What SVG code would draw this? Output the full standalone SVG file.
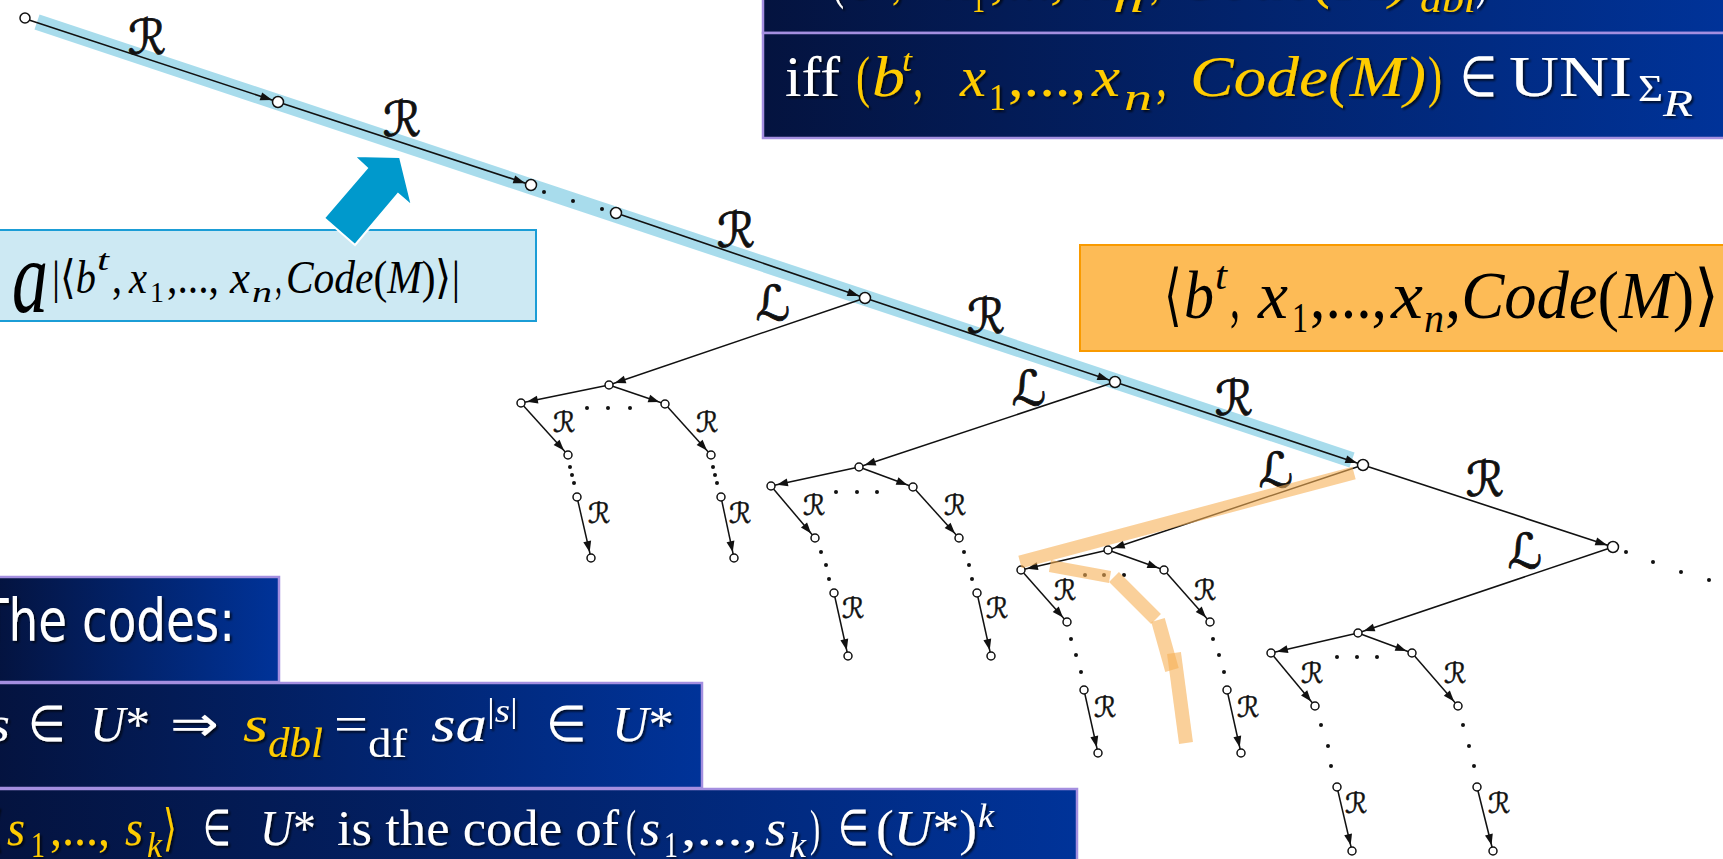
<svg xmlns="http://www.w3.org/2000/svg" width="1723" height="859" viewBox="0 0 1723 859">
<defs>
<linearGradient id="gd" x1="0" y1="0" x2="1" y2="0">
<stop offset="0" stop-color="#04133f"/><stop offset="1" stop-color="#003399"/>
</linearGradient>
<filter id="sh" x="-5%" y="-10%" width="110%" height="140%">
<feDropShadow dx="2" dy="2" stdDeviation="1" flood-color="#000" flood-opacity="0.7"/>
</filter>
<marker id="ah" markerUnits="userSpaceOnUse" markerWidth="11" markerHeight="8" viewBox="0 0 11 8" refX="17" refY="4" orient="auto" overflow="visible">
<path d="M0,0 L11,4 L0,8 z" fill="#111"/>
</marker>
<marker id="ahs" markerUnits="userSpaceOnUse" markerWidth="12" markerHeight="8" viewBox="0 0 12 8" refX="18" refY="4" orient="auto" overflow="visible">
<path d="M0,0 L12,4 L0,8 z" fill="#111"/>
</marker>
</defs>
<style>
.box{fill:url(#gd);stroke:#a48fe0;stroke-width:2.5}
.e{stroke:#111;stroke-width:1.5;fill:none;marker-end:url(#ah)}
.es{stroke:#111;stroke-width:1.6;fill:none;marker-end:url(#ahs)}
.nd{fill:#fff;stroke:#111;stroke-width:1.5}
.dot{fill:#111}
.lb{font-family:"DejaVu Sans","Noto Sans",sans-serif;fill:#111;stroke:#111;text-anchor:middle;dominant-baseline:central}
.big{font-size:48px;stroke-width:0.9}
.sm{font-size:28px;stroke-width:0.5}
.t{font-family:"Liberation Serif","Times New Roman",serif}
.i{font-style:italic}
.w{fill:#fff}
.y{fill:#ffcc00}
.k{fill:#000}
.sub{font-size:38px}
</style>
<rect width="1723" height="859" fill="#fff"/>

<g id="blue-band">
<line x1="37" y1="22" x2="1352" y2="460" stroke="#a8dcec" stroke-width="16"/>
</g>

<g id="connectors">
<line class="es" x1="26" y1="19" x2="278" y2="102"/>
<line class="es" x1="278" y1="102" x2="531" y2="185"/>
<line class="es" x1="616" y1="213" x2="865" y2="298"/>
<line class="es" x1="865" y1="298" x2="1115" y2="382"/>
<line class="es" x1="1115" y1="382" x2="1363" y2="465"/>
<line class="es" x1="1363" y1="465" x2="1613" y2="547"/>
<line class="e" x1="865" y1="298" x2="609" y2="385"/>
<line class="e" x1="1115" y1="382" x2="859" y2="467"/>
<line class="e" x1="1363" y1="465" x2="1108" y2="550"/>
<line class="e" x1="1613" y1="547" x2="1358" y2="633"/>
<line class="e" x1="609" y1="385" x2="521" y2="403"/>
<line class="e" x1="609" y1="385" x2="665" y2="404"/>
<line class="e" x1="521" y1="403" x2="568" y2="455"/>
<line class="e" x1="665" y1="404" x2="711" y2="455"/>
<line class="e" x1="577" y1="497" x2="591" y2="558"/>
<line class="e" x1="721" y1="497" x2="734" y2="558"/>
<line class="e" x1="859" y1="467" x2="771" y2="486"/>
<line class="e" x1="859" y1="467" x2="913" y2="487"/>
<line class="e" x1="771" y1="486" x2="815" y2="538"/>
<line class="e" x1="913" y1="487" x2="959" y2="538"/>
<line class="e" x1="834" y1="593" x2="848" y2="656"/>
<line class="e" x1="977" y1="593" x2="991" y2="656"/>
<line class="e" x1="1108" y1="550" x2="1021" y2="570"/>
<line class="e" x1="1108" y1="550" x2="1164" y2="570"/>
<line class="e" x1="1021" y1="570" x2="1067" y2="622"/>
<line class="e" x1="1164" y1="570" x2="1210" y2="622"/>
<line class="e" x1="1084" y1="690" x2="1098" y2="753"/>
<line class="e" x1="1227" y1="690" x2="1241" y2="753"/>
<line class="e" x1="1358" y1="633" x2="1271" y2="653"/>
<line class="e" x1="1358" y1="633" x2="1412" y2="653"/>
<line class="e" x1="1271" y1="653" x2="1315" y2="706"/>
<line class="e" x1="1412" y1="653" x2="1458" y2="706"/>
<line class="e" x1="1337" y1="787" x2="1352" y2="851"/>
<line class="e" x1="1477" y1="787" x2="1493" y2="851"/>
<g class="dot">
<circle cx="544" cy="192" r="2"/><circle cx="573" cy="201" r="2"/><circle cx="602" cy="209" r="2"/>
<circle cx="1626" cy="552" r="2"/><circle cx="1653" cy="562" r="2"/><circle cx="1681" cy="572" r="2"/><circle cx="1709" cy="580" r="2"/>
<circle cx="587" cy="408" r="2"/><circle cx="608" cy="408" r="2"/><circle cx="630" cy="408" r="2"/>
<circle cx="570" cy="467" r="2"/><circle cx="572" cy="475" r="2"/><circle cx="574" cy="483" r="2"/>
<circle cx="713" cy="467" r="2"/><circle cx="715" cy="475" r="2"/><circle cx="717" cy="483" r="2"/>
<circle cx="836" cy="492" r="2"/><circle cx="857" cy="492" r="2"/><circle cx="877" cy="492" r="2"/>
<circle cx="821" cy="552" r="2"/><circle cx="826" cy="565" r="2"/><circle cx="829" cy="579" r="2"/>
<circle cx="964" cy="552" r="2"/><circle cx="969" cy="565" r="2"/><circle cx="972" cy="579" r="2"/>
<circle cx="1085" cy="575" r="2"/><circle cx="1104" cy="575" r="2"/><circle cx="1124" cy="575" r="2"/>
<circle cx="1071" cy="639" r="2"/><circle cx="1076" cy="655" r="2"/><circle cx="1081" cy="672" r="2"/>
<circle cx="1213" cy="639" r="2"/><circle cx="1219" cy="655" r="2"/><circle cx="1224" cy="672" r="2"/>
<circle cx="1337" cy="657" r="2"/><circle cx="1357" cy="657" r="2"/><circle cx="1377" cy="657" r="2"/>
<circle cx="1321" cy="725" r="2"/><circle cx="1328" cy="746" r="2"/><circle cx="1331" cy="766" r="2"/>
<circle cx="1463" cy="725" r="2"/><circle cx="1469" cy="746" r="2"/><circle cx="1474" cy="766" r="2"/>
</g>
<g class="lb big">
<text x="147" y="37">ℛ</text><text x="402" y="119">ℛ</text><text x="736" y="230">ℛ</text>
<text x="986" y="316">ℛ</text><text x="1234" y="398">ℛ</text><text x="1485" y="479">ℛ</text>
<text x="773" y="303">ℒ</text><text x="1029" y="388">ℒ</text><text x="1276" y="470">ℒ</text><text x="1525" y="551">ℒ</text>
</g>
<g class="lb sm">
<text x="564" y="422">ℛ</text><text x="707" y="422">ℛ</text><text x="599" y="513">ℛ</text><text x="740" y="513">ℛ</text>
<text x="814" y="505">ℛ</text><text x="955" y="505">ℛ</text><text x="853" y="608">ℛ</text><text x="997" y="608">ℛ</text>
<text x="1065" y="590">ℛ</text><text x="1205" y="590">ℛ</text><text x="1105" y="707">ℛ</text><text x="1248" y="707">ℛ</text>
<text x="1312" y="673">ℛ</text><text x="1455" y="673">ℛ</text><text x="1356" y="803">ℛ</text><text x="1499" y="803">ℛ</text>
</g>
</g>

<g id="nodes">
<g id="n0"><circle class="nd" cx="25" cy="18" r="5"/></g>
<g id="n1"><circle class="nd" cx="278" cy="102" r="5.5"/></g>
<g id="n2"><circle class="nd" cx="531" cy="185" r="5.5"/></g>
<g id="n3"><circle class="nd" cx="616" cy="213" r="5.5"/></g>
<g id="n4"><circle class="nd" cx="865" cy="298" r="5.5"/></g>
<g id="n5"><circle class="nd" cx="1115" cy="382" r="5.5"/></g>
<g id="n6"><circle class="nd" cx="1363" cy="465" r="5.5"/></g>
<g id="n7"><circle class="nd" cx="1613" cy="547" r="5.5"/></g>
<g id="a"><circle class="nd" cx="609" cy="385" r="4"/></g>
<g id="aL"><circle class="nd" cx="521" cy="403" r="4"/></g>
<g id="aR"><circle class="nd" cx="665" cy="404" r="4"/></g>
<g id="aL1"><circle class="nd" cx="568" cy="455" r="4"/></g>
<g id="aR1"><circle class="nd" cx="711" cy="455" r="4"/></g>
<g id="aL2"><circle class="nd" cx="577" cy="497" r="4"/></g>
<g id="aR2"><circle class="nd" cx="721" cy="497" r="4"/></g>
<g id="aL3"><circle class="nd" cx="591" cy="558" r="4"/></g>
<g id="aR3"><circle class="nd" cx="734" cy="558" r="4"/></g>
<g id="b"><circle class="nd" cx="859" cy="467" r="4"/></g>
<g id="bL"><circle class="nd" cx="771" cy="486" r="4"/></g>
<g id="bR"><circle class="nd" cx="913" cy="487" r="4"/></g>
<g id="bL1"><circle class="nd" cx="815" cy="538" r="4"/></g>
<g id="bR1"><circle class="nd" cx="959" cy="538" r="4"/></g>
<g id="bL2"><circle class="nd" cx="834" cy="593" r="4"/></g>
<g id="bR2"><circle class="nd" cx="977" cy="593" r="4"/></g>
<g id="bL3"><circle class="nd" cx="848" cy="656" r="4"/></g>
<g id="bR3"><circle class="nd" cx="991" cy="656" r="4"/></g>
<g id="c"><circle class="nd" cx="1108" cy="550" r="4"/></g>
<g id="cL"><circle class="nd" cx="1021" cy="570" r="4"/></g>
<g id="cR"><circle class="nd" cx="1164" cy="570" r="4"/></g>
<g id="cL1"><circle class="nd" cx="1067" cy="622" r="4"/></g>
<g id="cR1"><circle class="nd" cx="1210" cy="622" r="4"/></g>
<g id="cL2"><circle class="nd" cx="1084" cy="690" r="4"/></g>
<g id="cR2"><circle class="nd" cx="1227" cy="690" r="4"/></g>
<g id="cL3"><circle class="nd" cx="1098" cy="753" r="4"/></g>
<g id="cR3"><circle class="nd" cx="1241" cy="753" r="4"/></g>
<g id="d"><circle class="nd" cx="1358" cy="633" r="4"/></g>
<g id="dL"><circle class="nd" cx="1271" cy="653" r="4"/></g>
<g id="dR"><circle class="nd" cx="1412" cy="653" r="4"/></g>
<g id="dL1"><circle class="nd" cx="1315" cy="706" r="4"/></g>
<g id="dR1"><circle class="nd" cx="1458" cy="706" r="4"/></g>
<g id="dL2"><circle class="nd" cx="1337" cy="787" r="4"/></g>
<g id="dR2"><circle class="nd" cx="1477" cy="787" r="4"/></g>
<g id="dL3"><circle class="nd" cx="1352" cy="851" r="4"/></g>
<g id="dR3"><circle class="nd" cx="1493" cy="851" r="4"/></g>
</g>

<g id="orange-path" stroke="#f7b056" stroke-opacity="0.6" fill="none">
<line x1="1354" y1="473" x2="1020" y2="562" stroke-width="13"/>
<line x1="1050" y1="566" x2="1110" y2="577" stroke-width="12"/>
<line x1="1114" y1="577" x2="1156" y2="619" stroke-width="14"/>
<line x1="1158" y1="620" x2="1172" y2="670" stroke-width="14"/>
<line x1="1174" y1="653" x2="1186" y2="743" stroke-width="14"/>
</g>

<g id="formula-top">
<rect class="box" x="763" y="-4" width="964" height="37"/>
<rect class="box" x="763" y="33" width="964" height="105"/>
<g class="t" font-size="56" filter="url(#sh)">
<text class="w" x="832" y="-3" textLength="12" lengthAdjust="spacingAndGlyphs">(</text>
<text class="y i" x="848" y="-3" textLength="32" lengthAdjust="spacingAndGlyphs">b</text>
<text class="y" x="892" y="-3" textLength="10" lengthAdjust="spacingAndGlyphs">,</text>
<text class="y i" x="944" y="-3" textLength="26" lengthAdjust="spacingAndGlyphs">x</text>
<text class="y sub" x="972" y="12" textLength="13" lengthAdjust="spacingAndGlyphs">1</text>
<text class="y" x="990" y="-3" textLength="75" lengthAdjust="spacingAndGlyphs">,...,</text>
<text class="y i" x="1082" y="-3" textLength="28" lengthAdjust="spacingAndGlyphs">x</text>
<text class="y i sub" x="1113" y="12" textLength="31" lengthAdjust="spacingAndGlyphs">n</text>
<text class="y" x="1150" y="-3" textLength="10" lengthAdjust="spacingAndGlyphs">,</text>
<text class="y i" x="1175" y="-3" textLength="236" lengthAdjust="spacingAndGlyphs">Code(M)</text>
<text class="y i sub" x="1420" y="12" textLength="56" lengthAdjust="spacingAndGlyphs">dbl</text>
<text class="w" x="1476" y="-3" textLength="12" lengthAdjust="spacingAndGlyphs">)</text>

<text class="w" x="785" y="96" textLength="55" lengthAdjust="spacingAndGlyphs">iff</text>
<text class="y" x="856" y="96" textLength="14" lengthAdjust="spacingAndGlyphs">(</text>
<text class="y i" x="872" y="96" textLength="33" lengthAdjust="spacingAndGlyphs">b</text>
<text class="y i" x="902" y="71" font-size="32" textLength="10" lengthAdjust="spacingAndGlyphs">t</text>
<text class="y" x="913" y="96" textLength="10" lengthAdjust="spacingAndGlyphs">,</text>
<text class="y i" x="960" y="96" textLength="26" lengthAdjust="spacingAndGlyphs">x</text>
<text class="y sub" x="989" y="110" textLength="17" lengthAdjust="spacingAndGlyphs">1</text>
<text class="y" x="1008" y="96" textLength="78" lengthAdjust="spacingAndGlyphs">,...,</text>
<text class="y i" x="1092" y="96" textLength="28" lengthAdjust="spacingAndGlyphs">x</text>
<text class="y i sub" x="1124" y="110" textLength="28" lengthAdjust="spacingAndGlyphs">n</text>
<text class="y" x="1156" y="96" textLength="11" lengthAdjust="spacingAndGlyphs">,</text>
<text class="y i" x="1190" y="96" textLength="236" lengthAdjust="spacingAndGlyphs">Code(M)</text>
<text class="y" x="1428" y="96" textLength="14" lengthAdjust="spacingAndGlyphs">)</text>
<text class="w" x="1460" y="96" textLength="37" lengthAdjust="spacingAndGlyphs">∈</text>
<text class="w" x="1509" y="96" textLength="123" lengthAdjust="spacingAndGlyphs">UNI</text>
<text class="w sub" x="1638" y="101" textLength="25" lengthAdjust="spacingAndGlyphs">Σ</text>
<text class="w i sub" x="1663" y="116" textLength="30" lengthAdjust="spacingAndGlyphs">R</text>
</g>
</g>

<g id="code-box">
<rect x="1080" y="245" width="650" height="106" fill="#fdbb56" stroke="#f99a00" stroke-width="2"/>
<g class="t k" font-size="68">
<text x="1164" y="318" textLength="18" lengthAdjust="spacingAndGlyphs">⟨</text>
<text class="i" x="1184" y="318" textLength="30" lengthAdjust="spacingAndGlyphs">b</text>
<text class="i" x="1215" y="289" font-size="40" textLength="12" lengthAdjust="spacingAndGlyphs">t</text>
<text x="1230" y="318" textLength="10" lengthAdjust="spacingAndGlyphs">,</text>
<text class="i" x="1258" y="318" textLength="30" lengthAdjust="spacingAndGlyphs">x</text>
<text x="1292" y="332" font-size="42" textLength="16" lengthAdjust="spacingAndGlyphs">1</text>
<text x="1310" y="318" textLength="77" lengthAdjust="spacingAndGlyphs">,...,</text>
<text class="i" x="1391" y="318" textLength="32" lengthAdjust="spacingAndGlyphs">x</text>
<text class="i" x="1424" y="332" font-size="42" textLength="20" lengthAdjust="spacingAndGlyphs">n</text>
<text x="1445" y="318" textLength="275" lengthAdjust="spacingAndGlyphs">,<tspan class="i">Code</tspan>(<tspan class="i">M</tspan>)⟩</text>
</g>
</g>

<g id="length-box">
<rect x="-2" y="230" width="538" height="91" fill="#cde9f3" stroke="#1b9dd6" stroke-width="2"/>
<g class="t k" font-size="46">
<text class="i" x="12" y="312" font-size="104" textLength="36" lengthAdjust="spacingAndGlyphs">a</text>
<text x="52" y="293" textLength="44" lengthAdjust="spacingAndGlyphs">|⟨<tspan class="i">b</tspan></text>
<text class="i" x="97" y="270" font-size="30" textLength="12" lengthAdjust="spacingAndGlyphs">t</text>
<text x="112" y="293" textLength="10" lengthAdjust="spacingAndGlyphs">,</text>
<text class="i" x="129" y="293" textLength="18" lengthAdjust="spacingAndGlyphs">x</text>
<text x="150" y="302" font-size="30" textLength="14" lengthAdjust="spacingAndGlyphs">1</text>
<text x="167" y="293" textLength="52" lengthAdjust="spacingAndGlyphs">,...,</text>
<text class="i" x="230" y="293" textLength="20" lengthAdjust="spacingAndGlyphs">x</text>
<text class="i" x="252" y="302" font-size="30" textLength="20" lengthAdjust="spacingAndGlyphs">n</text>
<text x="275" y="293" textLength="7" lengthAdjust="spacingAndGlyphs">,</text>
<text x="286" y="293" textLength="174" lengthAdjust="spacingAndGlyphs"><tspan class="i">Code</tspan>(<tspan class="i">M</tspan>)⟩|</text>
</g>
</g>

<g id="pointer-arrow">
<polygon points="324,218 367,168 354,156 400,157 412,206 398,194 355,245" fill="#0099cc" stroke="#fff" stroke-width="2" stroke-linejoin="miter"/>
</g>

<g id="codes-title">
<rect class="box" x="-4" y="577" width="283" height="105"/>
<text x="-20" y="641" font-family="'DejaVu Sans','Liberation Sans',sans-serif" font-size="58" fill="#fff" textLength="255" lengthAdjust="spacingAndGlyphs" filter="url(#sh)">The codes:</text>
</g>

<g id="codes-dbl">
<rect class="box" x="-4" y="683" width="706" height="105"/>
<g class="t" font-size="50" filter="url(#sh)">
<text class="w i" x="-12" y="741" textLength="22" lengthAdjust="spacingAndGlyphs">s</text>
<text class="w" x="28" y="741" textLength="38" lengthAdjust="spacingAndGlyphs">∈</text>
<text class="w" x="90" y="741" textLength="60" lengthAdjust="spacingAndGlyphs"><tspan class="i">U</tspan>*</text>
<text class="w" x="170" y="741" textLength="49" lengthAdjust="spacingAndGlyphs">⇒</text>
<text class="y i" x="243" y="741" textLength="25" lengthAdjust="spacingAndGlyphs">s</text>
<text class="y i" x="268" y="757" font-size="42" textLength="55" lengthAdjust="spacingAndGlyphs">dbl</text>
<text class="w" x="334" y="741" textLength="34" lengthAdjust="spacingAndGlyphs">=</text>
<text class="w" x="368" y="757" font-size="40" textLength="39" lengthAdjust="spacingAndGlyphs">df</text>
<text class="w i" x="431" y="741" textLength="56" lengthAdjust="spacingAndGlyphs">sa</text>
<text class="w" x="487" y="722" font-size="34" textLength="31" lengthAdjust="spacingAndGlyphs">|<tspan class="i">s</tspan>|</text>
<text class="w" x="546" y="741" textLength="41" lengthAdjust="spacingAndGlyphs">∈</text>
<text class="w" x="612" y="741" textLength="62" lengthAdjust="spacingAndGlyphs"><tspan class="i">U</tspan>*</text>
</g>
</g>

<g id="codes-tuple">
<rect class="box" x="-4" y="789" width="1081" height="80"/>
<g class="t" font-size="50" filter="url(#sh)">
<text class="y" x="-13" y="845" textLength="16" lengthAdjust="spacingAndGlyphs">⟨</text>
<text class="y i" x="7" y="845" textLength="18" lengthAdjust="spacingAndGlyphs">s</text>
<text class="y" x="31" y="857" font-size="36" textLength="14" lengthAdjust="spacingAndGlyphs">1</text>
<text class="y" x="50" y="845" textLength="60" lengthAdjust="spacingAndGlyphs">,...,</text>
<text class="y i" x="125" y="845" textLength="18" lengthAdjust="spacingAndGlyphs">s</text>
<text class="y i" x="147" y="857" font-size="36" textLength="15" lengthAdjust="spacingAndGlyphs">k</text>
<text class="y" x="163" y="845" textLength="14" lengthAdjust="spacingAndGlyphs">⟩</text>
<text class="w" x="203" y="845" textLength="28" lengthAdjust="spacingAndGlyphs">∈</text>
<text class="w" x="260" y="845" textLength="56" lengthAdjust="spacingAndGlyphs"><tspan class="i">U</tspan>*</text>
<text class="w" x="337" y="845" textLength="282" lengthAdjust="spacingAndGlyphs">is the code of</text>
<text class="w" x="626" y="845" textLength="10" lengthAdjust="spacingAndGlyphs">(</text>
<text class="w i" x="640" y="845" textLength="20" lengthAdjust="spacingAndGlyphs">s</text>
<text class="w" x="664" y="857" font-size="36" textLength="14" lengthAdjust="spacingAndGlyphs">1</text>
<text class="w" x="681" y="845" textLength="77" lengthAdjust="spacingAndGlyphs">,...,</text>
<text class="w i" x="765" y="845" textLength="21" lengthAdjust="spacingAndGlyphs">s</text>
<text class="w i" x="789" y="857" font-size="36" textLength="17" lengthAdjust="spacingAndGlyphs">k</text>
<text class="w" x="810" y="845" textLength="10" lengthAdjust="spacingAndGlyphs">)</text>
<text class="w" x="838" y="845" textLength="31" lengthAdjust="spacingAndGlyphs">∈</text>
<text class="w" x="876" y="845" textLength="101" lengthAdjust="spacingAndGlyphs">(<tspan class="i">U</tspan>*)</text>
<text class="w i" x="978" y="827" font-size="34" textLength="16" lengthAdjust="spacingAndGlyphs">k</text>
</g>
</g>
</svg>
